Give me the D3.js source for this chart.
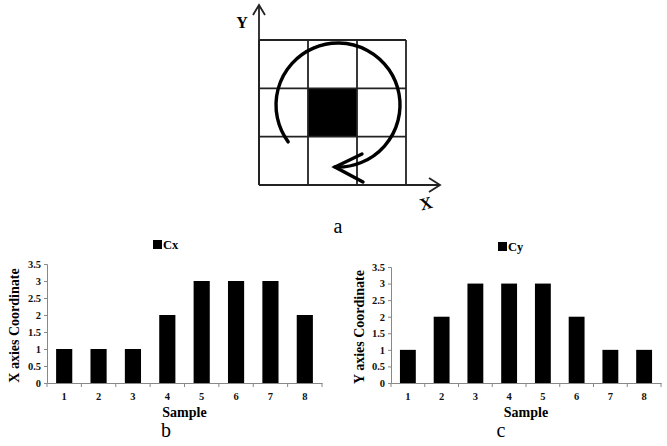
<!DOCTYPE html>
<html>
<head>
<meta charset="utf-8">
<script src="https://cdn.jsdelivr.net/npm/d3@7"></script>
<style>
  body { margin: 0; background: #fff; }
  text { font-family: "Liberation Serif", "Times New Roman", serif; }
</style>
</head>
<body>
<svg id="fig" width="667" height="446"></svg>
<script>
const samples = ["1", "2", "3", "4", "5", "6", "7", "8"];
const cxValues = [1, 1, 1, 2, 3, 3, 3, 2];
const cyValues = [1, 2, 3, 3, 3, 2, 1, 1];
const yTicks = [0, 0.5, 1, 1.5, 2, 2.5, 3, 3.5];
const gridCells = [0, 1, 2, 3];

const svg = d3.select("#fig");

// ---- panel a: 3x3 grid with rotation arrow
function drawGrid() {
  const gx = d3.scaleLinear().domain([0, 3]).range([259, 406]);
  const gy = d3.scaleLinear().domain([0, 3]).range([185, 40]);
  const g = svg.append("g").attr("class", "panel-a");

  g.append("rect")
    .attr("x", gx(1)).attr("y", gy(2))
    .attr("width", gx(2) - gx(1)).attr("height", gy(1) - gy(2))
    .attr("fill", "#000");

  g.selectAll("line.v").data(gridCells).enter().append("line")
    .attr("x1", d => gx(d)).attr("x2", d => gx(d))
    .attr("y1", gy(0)).attr("y2", gy(3))
    .attr("stroke", "#222").attr("stroke-width", 1.8);
  g.selectAll("line.h").data(gridCells).enter().append("line")
    .attr("y1", d => gy(d)).attr("y2", d => gy(d))
    .attr("x1", gx(0)).attr("x2", gx(3))
    .attr("stroke", "#222").attr("stroke-width", 1.8);

  // axes with arrows
  const axisStyle = sel => sel.attr("fill", "none").attr("stroke", "#222").attr("stroke-width", 1.8);
  g.append("path").attr("d", `M${gx(0)},${gy(0)}V5`).call(axisStyle);
  g.append("path").attr("d", `M${gx(0) - 6},15L${gx(0)},5L${gx(0) + 6},15`).call(axisStyle);
  g.append("path").attr("d", `M${gx(0)},${gy(0)}H440`).call(axisStyle);
  g.append("path").attr("d", `M429,178L440,185L429,192`).call(axisStyle);

  g.append("text").attr("x", 242).attr("y", 28).attr("text-anchor", "middle")
    .attr("font-size", 16).attr("font-weight", "bold").text("Y");
  g.append("text").attr("x", 426).attr("y", 209).attr("text-anchor", "middle")
    .attr("font-size", 17).attr("font-weight", "bold")
    .attr("transform", "rotate(-15,426,203)").text("X");

  // circular arrow
  const p = d3.path();
  const a0 = 143.5 * Math.PI / 180, a1 = (360 + 93) * Math.PI / 180;
  p.arc(338, 105, 62, a0, a1, false);
  g.append("path").attr("d", p.toString())
    .attr("fill", "none").attr("stroke", "#000").attr("stroke-width", 3.4)
    .attr("stroke-linecap", "round");
  g.append("path").attr("d", "M362,154L335,167L363,182")
    .attr("fill", "none").attr("stroke", "#000").attr("stroke-width", 3.4)
    .attr("stroke-linecap", "round").attr("stroke-linejoin", "miter");

  g.append("text").attr("x", 338).attr("y", 233).attr("text-anchor", "middle")
    .attr("font-size", 20).text("a");
}

// ---- panels b and c: bar charts
function drawBars(opt) {
  const g = svg.append("g");
  const x = d3.scaleBand().domain(samples).range([opt.left, opt.right])
    .paddingInner(0.53).paddingOuter(0.265);
  const y = d3.scaleLinear().domain([0, 3.5]).range([opt.bottom, opt.top]);

  g.selectAll("rect.bar").data(opt.values).enter().append("rect")
    .attr("x", (d, i) => x(samples[i]))
    .attr("y", d => y(d))
    .attr("width", x.bandwidth())
    .attr("height", d => y(0) - y(d))
    .attr("fill", "#000");

  const yAxis = g.append("g").attr("transform", `translate(${opt.left},0)`)
    .call(d3.axisLeft(y).tickValues(yTicks).tickSize(3).tickPadding(3).tickFormat(d3.format("")));
  yAxis.select(".domain").attr("stroke", "#888");
  yAxis.selectAll(".tick line").attr("stroke", "#888");
  yAxis.selectAll("text").attr("font-size", 10.5).attr("font-weight", "bold").attr("fill", "#111");

  const xAxis = g.append("g").attr("transform", `translate(0,${opt.bottom})`)
    .call(d3.axisBottom(x).tickSize(0).tickPadding(10));
  xAxis.select(".domain").attr("stroke", "#888");
  xAxis.selectAll("text").attr("font-size", 10.5).attr("font-weight", "bold").attr("fill", "#111");
  // boundary tick marks between categories
  const bounds = d3.range(samples.length + 1).map(i => opt.left + i * x.step());
  xAxis.selectAll("line.sep").data(bounds).enter().append("line")
    .attr("x1", d => d).attr("x2", d => d).attr("y1", 0).attr("y2", 4)
    .attr("stroke", "#888");

  // legend
  g.append("rect").attr("x", opt.legendX).attr("y", opt.legendY - 9)
    .attr("width", 9).attr("height", 9).attr("fill", "#000");
  g.append("text").attr("x", opt.legendX + 10).attr("y", opt.legendY)
    .attr("font-size", 12.5).attr("font-weight", "bold").text(opt.series);

  g.append("text").attr("x", (opt.left + opt.right) / 2).attr("y", opt.bottom + 34)
    .attr("text-anchor", "middle").attr("font-size", 14).attr("font-weight", "bold")
    .text("Sample");
  g.append("text")
    .attr("transform", `translate(${opt.titleX},${(opt.top + opt.bottom) / 2 + 2}) rotate(-90)`)
    .attr("text-anchor", "middle").attr("font-size", 14).attr("font-weight", "bold")
    .text(opt.yTitle);

  g.append("text").attr("x", opt.letterX).attr("y", 437).attr("text-anchor", "middle")
    .attr("font-size", 20).text(opt.letter);
}

drawGrid();
drawBars({ values: cxValues, series: "Cx", yTitle: "X axies Coordinate", letter: "b",
  left: 47, right: 322, top: 264, bottom: 383, legendX: 153, legendY: 249, titleX: 19, letterX: 166 });
drawBars({ values: cyValues, series: "Cy", yTitle: "Y axies Coordinate", letter: "c",
  left: 391, right: 661, top: 267, bottom: 383, legendX: 498, legendY: 251, titleX: 364, letterX: 501 });
</script>
</body>
</html>
